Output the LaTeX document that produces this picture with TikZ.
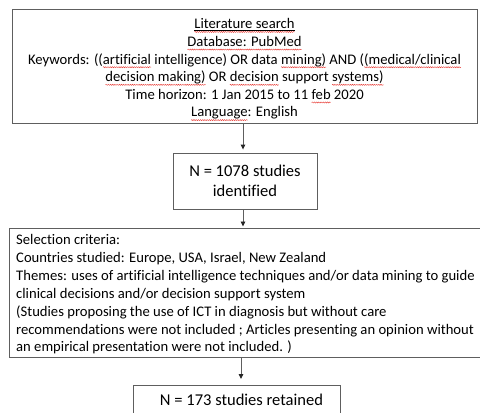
\documentclass[tikz,border=0pt]{standalone}
\usepackage{fontspec}
\setmainfont{Carlito}[Ligatures={NoCommon}]
\usetikzlibrary{arrows.meta,decorations.pathmorphing}
\definecolor{boxline}{HTML}{5E5E5E}
\definecolor{wavered}{HTML}{E8403A}
\newsavebox\rwbox
\newlength\rwlen
\newcommand\rw[1]{\sbox\rwbox{#1}\setlength\rwlen{\wd\rwbox}\rlap{\usebox\rwbox}\tikz[baseline=0pt]{\useasboundingbox (0pt,0pt) rectangle (\rwlen,0pt); \path[draw=wavered, line width=0.45pt, decorate, decoration={snake, amplitude=0.55pt, segment length=2.2pt}] (0pt,-3.2pt) -- (\rwlen,-3.2pt);}}
\newcommand\ftop{\fontsize{14.7}{17.7}\selectfont}
\newcommand\fsel{\fontsize{14.7}{18}\selectfont}
\newcommand\fbig{\fontsize{16.6}{20}\selectfont}
\begin{document}
\begin{tikzpicture}[x=1bp,y=-1bp,
  box/.style={draw=boxline, line width=0.9bp, inner sep=0pt},
  txt/.style={inner sep=0pt},
  arr/.style={draw=boxline, line width=0.9bp, -{Triangle[length=5bp,width=4.6bp,color=black!85]}}]
\useasboundingbox (0,0) rectangle (480,412);
\node[box, minimum width=465bp, minimum height=114bp] (lit) at (244.5,66) {};
\node[txt, align=center, font=\ftop] (littext) at (244.5,69)
  {\underline{\rw{Literature search}}\\
   \rw{Database: PubMed}\\
   Keywords: ((\rw{artificial} intelligence) OR data \rw{mining)} AND (\rw{(medical/clinical}\\
   \rw{decision making)} OR \rw{decision} support \rw{systems)}\\
   Time horizon: 1 Jan 2015 to 11 \rw{feb} 2020\\
   \rw{Language}: English};
\node[box, minimum width=144bp, minimum height=56bp, align=center, font=\fbig] (n1) at (245,181)
  {N = 1078 studies\\ identified};
\node[box, minimum width=478bp, minimum height=129bp, anchor=north west] (sel) at (9,228) {};
\node[txt, anchor=north west, align=left, font=\fsel] (seltext) at (16,234)
  {Selection criteria:\\
   Countries studied: Europe, USA, Israel, New Zealand\\
   Themes: uses of artificial intelligence techniques and/or data mining to guide\\
   clinical decisions and/or decision support system\\
   (Studies proposing the use of ICT in diagnosis but without care\\
   recommendations were not included ; Articles presenting an opinion without\\
   an empirical presentation were not included. )};
\node[box, minimum width=207bp, minimum height=40bp, anchor=north] (ret) at (236.5,385) {};
\node[txt, font=\fbig] (rettext) at (241.5,400) {N = 173 studies retained};
\coordinate (ax) at (243,0);
\coordinate (bx) at (241,0);
\draw[arr] (lit.south -| ax) -- ([yshift=3bp]n1.north -| ax);
\draw[arr] (n1.south -| ax) -- ([yshift=1.5bp]sel.north -| ax);
\draw[arr] (sel.south -| bx) -- ([yshift=6bp]ret.north -| bx);
\end{tikzpicture}
\end{document}
